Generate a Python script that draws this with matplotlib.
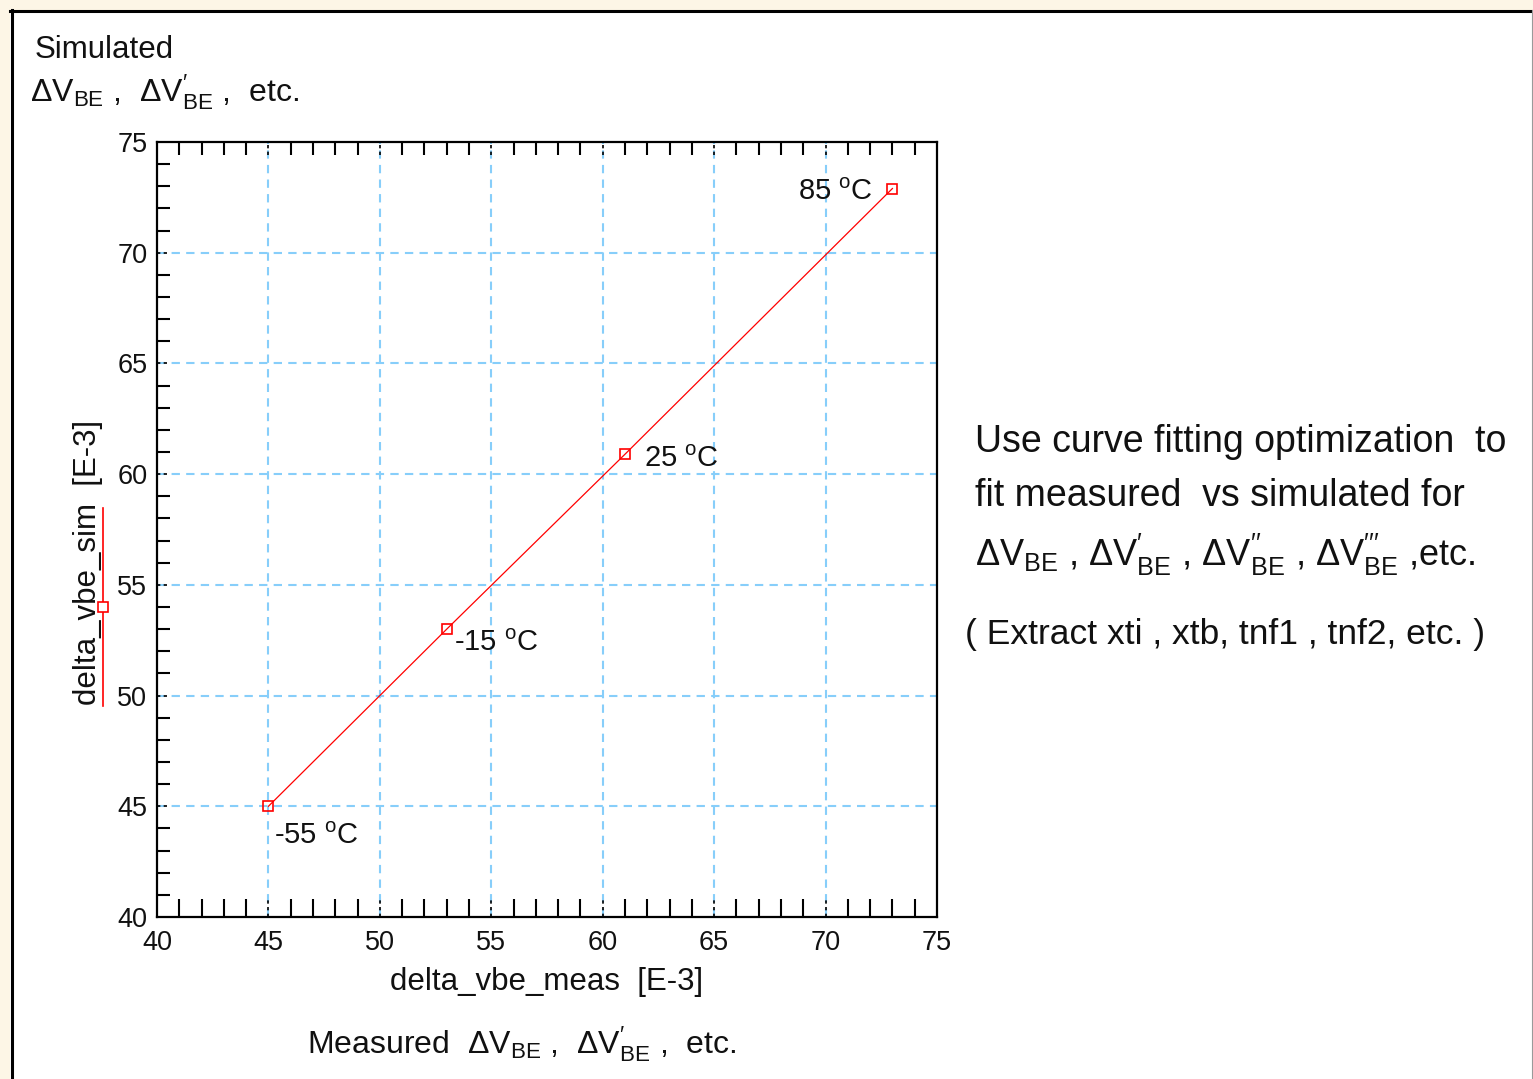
import matplotlib
matplotlib.use("Agg")
import matplotlib.pyplot as plt
from matplotlib.lines import Line2D
from matplotlib.patches import Rectangle
from matplotlib.ticker import MultipleLocator

plt.rcParams['font.family'] = ['Liberation Sans', 'DejaVu Sans']
plt.rcParams['mathtext.fontset'] = 'custom'
plt.rcParams['mathtext.rm'] = 'Liberation Sans'
plt.rcParams['mathtext.it'] = 'Liberation Sans:italic'
plt.rcParams['mathtext.bf'] = 'Liberation Sans:bold'

# delta VBE, measured vs simulated [E-3], one point per temperature
temps = ['-55', '-15', '25', '85']
dvbe_meas = [45.0, 53.0, 61.0, 73.0]
dvbe_sim = [45.0, 53.0, 60.9, 72.9]
major_ticks = [40, 45, 50, 55, 60, 65, 70, 75]

# label offsets (points) relative to each marker
label_offsets = [(4, -27), (5, -16), (14, -9), (-14, -8)]
label_ha = ['left', 'left', 'left', 'right']

W, H = 1533, 1079
fig = plt.figure(figsize=(W / 100, H / 100), dpi=100)
fig.patch.set_facecolor('#fdf6e6')

# white panel with the window frame
fig.patches.append(Rectangle((10 / W, 0), 1522 / W, 1 - 10 / H, transform=fig.transFigure,
                             facecolor='white', edgecolor='none', zorder=-5))
fig.lines.append(Line2D([10 / W, 1532 / W], [1 - 11 / H] * 2, transform=fig.transFigure,
                        color='black', lw=2.2))
fig.lines.append(Line2D([11.5 / W] * 2, [0, 1 - 10 / H], transform=fig.transFigure,
                        color='black', lw=2.2))
fig.lines.append(Line2D([1532 / W] * 2, [0, 1 - 10 / H], transform=fig.transFigure,
                        color='#9a9a9a', lw=0.8))

ax = fig.add_axes([157 / W, 1 - 917 / H, 780 / W, 775 / H])
ax.set_xlim(40, 75)
ax.set_ylim(40, 75)

grid_kw = dict(color='#87cefa', lw=1.5, ls=(0, (4, 3)), zorder=0)
for v in major_ticks[1:-1]:
    ax.axvline(v, **grid_kw)
    ax.axhline(v, **grid_kw)
    # black stub where the major tick sits
    ax.axvline(v, ymin=0, ymax=0.024, color='black', lw=1.2, ls=(0, (2, 2)), zorder=1)
    ax.axvline(v, ymin=0.983, ymax=1, color='black', lw=1.2, ls=(0, (2, 2)), zorder=1)
    ax.axhline(v, xmin=0, xmax=0.017, color='black', lw=1.2, ls=(0, (2, 2)), zorder=1)

ax.plot(dvbe_meas, dvbe_sim, color='red', lw=0.9, marker='s', ms=7,
        mfc='none', mec='red', mew=1.2, zorder=3)

for t, x, y, off, ha in zip(temps, dvbe_meas, dvbe_sim, label_offsets, label_ha):
    ax.annotate(t + r' $^{\mathrm{o}}$C', (x, y), xytext=off, textcoords='offset points',
                ha=ha, va='baseline', fontsize=21, color='#111111')

ax.xaxis.set_major_locator(MultipleLocator(5))
ax.yaxis.set_major_locator(MultipleLocator(5))
ax.xaxis.set_minor_locator(MultipleLocator(1))
ax.yaxis.set_minor_locator(MultipleLocator(1))
ax.tick_params(which='major', length=0, labelsize=19.5, colors='#111111')
ax.tick_params(axis='x', which='major', pad=9)
ax.tick_params(axis='y', which='major', pad=7)
ax.tick_params(axis='x', which='minor', direction='in', length=13, width=1.5,
               top=True, bottom=True)
ax.tick_params(axis='y', which='minor', direction='in', length=9.5, width=1.5,
               left=True, right=False)
# top ticks are shorter than bottom ones
for tick in ax.xaxis.get_minor_ticks():
    tick.tick2line.set_markersize(9.5)

for s in ax.spines.values():
    s.set_linewidth(1.6)

ax.set_xlabel('delta_vbe_meas  [E-3]', fontsize=22.5, labelpad=8, color='#111111')
fig.text(88 / W, 1 - 562 / H, 'delta_vbe_sim  [E-3]', rotation=90, ha='center', va='center',
         fontsize=22.5, color='#111111')

# legend sample sitting on the y label
fig.lines.append(Line2D([103 / W] * 2, [1 - 706 / H, 1 - 508 / H], transform=fig.transFigure,
                        color='red', lw=1.2))
fig.lines.append(Line2D([103 / W], [1 - 607 / H], transform=fig.transFigure,
                        marker='s', ms=7, mfc='white', mec='red', mew=1.2, ls='none'))

dv = r'$\Delta$V$_{\mathrm{BE}}$'
dv1 = r'$\Delta$V$_{\mathrm{BE}}^{\prime}$'
dv2 = r'$\Delta$V$_{\mathrm{BE}}^{\prime\prime}$'
dv3 = r'$\Delta$V$_{\mathrm{BE}}^{\prime\prime\prime}$'

fig.text(35 / W, 1 - 58 / H, 'Simulated', fontsize=22.5, color='#111111', va='baseline')
fig.text(30 / W, 1 - 102 / H, dv + ' ,  ' + dv1 + ' ,  etc.', fontsize=23, color='#111111',
         va='baseline')
fig.text(307 / W, 1 - 1053 / H, 'Measured  ' + dv + ' ,  ' + dv1 + ' ,  etc.',
         fontsize=23, color='#111111', va='baseline')

right_lines = ['Use curve fitting optimization  to',
               'fit measured  vs simulated for',
               dv + ' , ' + dv1 + ' , ' + dv2 + ' , ' + dv3 + ' ,etc.',
               '( Extract xti , xtb, tnf1 , tnf2, etc. )']
right_x = [975, 975, 975, 965]
right_y = [452, 506, 566, 644]
right_size = [27, 27, 26, 25.5]
for txt, x, y, fs in zip(right_lines, right_x, right_y, right_size):
    fig.text(x / W, 1 - y / H, txt, fontsize=fs, color='#111111', va='baseline')

fig.savefig('out.png', dpi=100, facecolor=fig.get_facecolor())
